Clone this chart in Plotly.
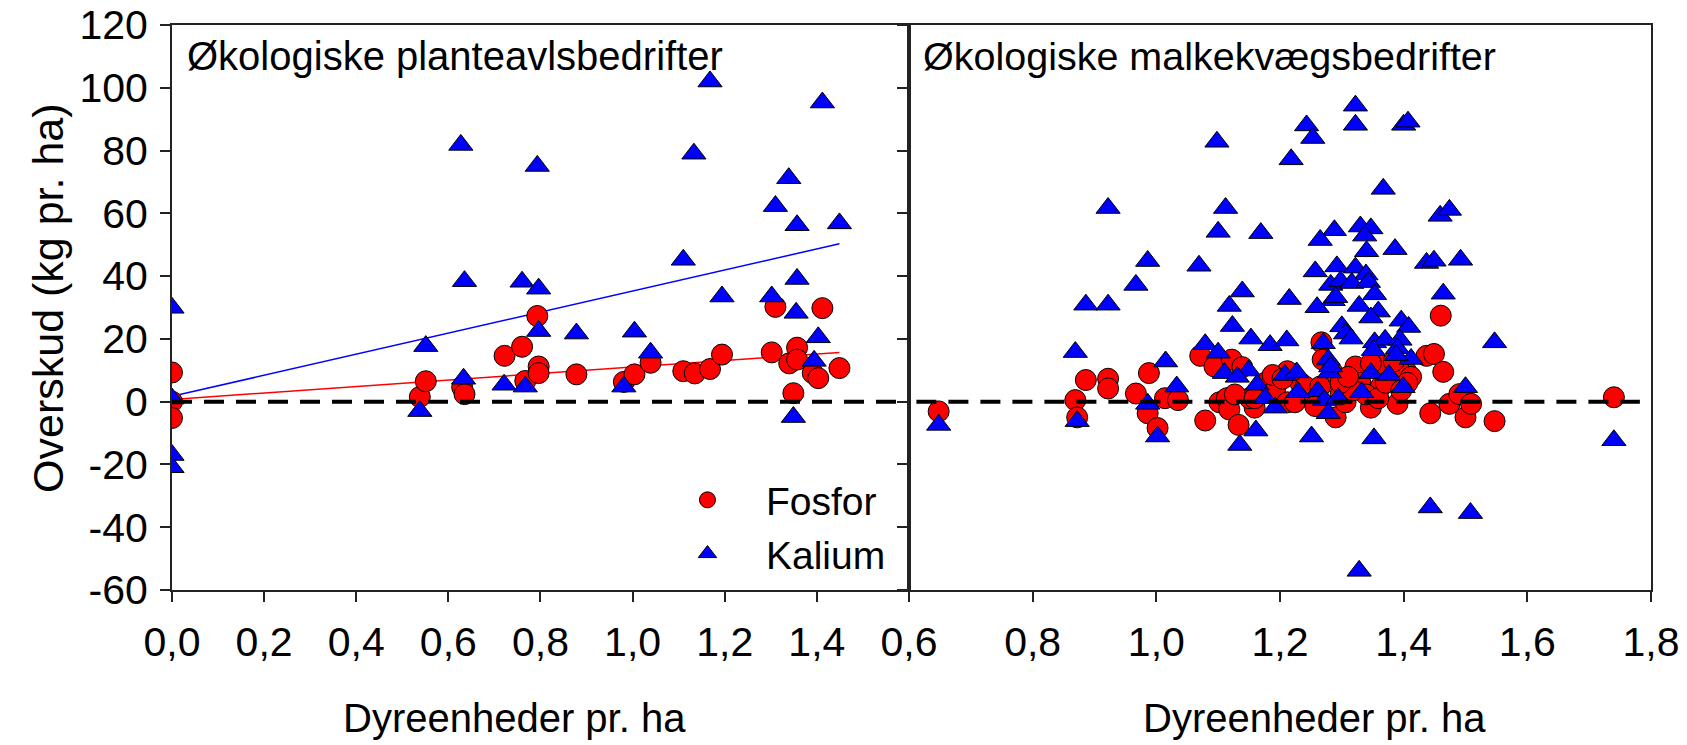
import plotly.graph_objects as go

# ---------------- data ----------------
# Left panel: Økologiske planteavlsbedrifter
plante_P_x = [0.0, 0.0, 0.0, 0.538, 0.551, 0.63, 0.635, 0.722, 0.76, 0.767, 0.793, 0.796, 0.796,
              0.878, 0.981, 1.004, 1.039, 1.11, 1.135, 1.168, 1.194, 1.31, 1.302, 1.34, 1.357,
              1.357, 1.349, 1.391, 1.403, 1.412, 1.449]
plante_P_y = [9.3, 0.0, -5.2, 1.5, 6.5, 4.6, 2.4, 14.6, 17.5, 6.6, 27.3, 11.2, 9.1,
              8.7, 6.3, 8.7, 12.4, 9.7, 9.0, 10.4, 15.0, 30.2, 15.7, 12.2, 17.2,
              13.4, 2.7, 9.1, 7.5, 29.8, 10.7]
plante_K_x = [0.0, 0.0, 0.0, 0.0, 0.538, 0.551, 0.627, 0.635, 0.633, 0.721, 0.76, 0.767, 0.793,
              0.796, 0.796, 0.878, 0.981, 1.004, 1.039, 1.11, 1.133, 1.168, 1.194, 1.302, 1.31,
              1.339, 1.357, 1.357, 1.355, 1.349, 1.394, 1.403, 1.412, 1.449]
plante_K_y = [29.9, 1.0, -17.0, -20.9, -3.0, 17.7, 81.8, 38.4, 7.3, 5.4, 38.2, 4.8, 75.1,
              36.0, 22.5, 21.7, 4.8, 22.3, 15.6, 45.2, 79.0, 102.0, 33.5, 33.5, 62.3,
              71.2, 56.2, 39.1, 28.3, -4.9, 13.0, 20.5, 95.3, 56.8]
# regression lines (left panel)
fit_x = [0.0, 1.449]
fit_P = [0.7, 15.7]
fit_K = [1.7, 50.3]

# Right panel: Økologiske malkekvægsbedrifter
malk_P_x = [0.648, 1.74, 0.869, 0.872, 0.886, 0.922, 0.922, 0.967, 0.988, 0.986, 1.002, 1.014,
            1.035, 1.071, 1.079, 1.094, 1.122, 1.139, 1.102, 1.114, 1.118, 1.133, 1.159, 1.176,
            1.192, 1.212, 1.212, 1.233, 1.249, 1.267, 1.269, 1.286, 1.29, 1.306, 1.322, 1.33,
            1.347, 1.355, 1.363, 1.39, 1.404, 1.437, 1.449, 1.443, 1.46, 1.464, 1.474, 1.49,
            1.50, 1.509, 1.547, 1.367, 1.392, 1.412, 1.406, 1.151, 1.224, 1.257, 1.298, 1.339,
            1.359, 1.318, 1.298, 1.371, 1.396, 1.188, 1.204, 1.241, 1.265, 1.31, 1.347, 1.384,
            1.127, 1.159]
malk_P_y = [-3.1, 1.4, 0.5, -5.0, 6.9, 7.3, 4.2, 2.6, 9.1, -3.7, -8.4, 1.1,
            0.5, 14.6, -6.0, 11.2, 13.4, 11.0, -0.2, 1.1, -2.5, -7.4, -1.9, 6.0,
            3.6, 9.7, -0.2, 6.0, 1.1, 18.9, 13.4, 9.1, -5.0, -0.2, 11.2, 6.0,
            -1.9, 11.0, 4.8, -0.7, 9.7, 14.6, 15.2, -3.7, 27.4, 9.5, -0.7, 2.4,
            -5.0, -0.7, -6.2, 11.5, 10.3, 7.9, 6.0, 1.1, -0.2, -1.4, 2.3, 2.3,
            1.1, 3.6, 6.0, 6.0, 3.6, 8.5, 7.3, 4.8, 4.8, 7.9, 12.2, 12.8,
            2.3, 1.1]
malk_K_x = [1.322, 1.322, 1.243, 1.253, 1.40, 1.407, 1.218, 1.098, 1.367, 0.922, 1.112, 1.459,
            1.474, 1.100, 1.169, 1.288, 1.265, 1.33, 1.347, 1.337, 1.34, 1.386, 1.437, 1.449,
            1.492, 0.986, 1.069, 0.967, 1.257, 1.292, 1.322, 1.339, 1.282, 1.298, 1.316, 1.343,
            1.286, 1.29, 1.139, 1.353, 0.886, 0.922, 1.215, 1.118, 1.26, 1.328, 1.359, 1.347,
            1.396, 1.408, 1.464, 1.123, 1.30, 1.306, 1.315, 1.153, 1.184, 1.211, 1.079, 1.1,
            1.353, 1.37, 1.394, 1.39, 1.412, 1.388, 1.351, 1.27, 1.278, 1.547, 0.869, 1.015,
            1.033, 1.110, 1.149, 1.163, 1.208, 1.227, 1.261, 1.28, 1.282, 1.347, 1.376, 1.399,
            1.50, 1.332, 1.229, 1.176, 1.131, 1.272, 1.294, 0.986, 1.192, 1.278, 0.648, 0.872,
            1.002, 1.161, 1.251, 1.352, 1.135, 1.74, 1.443, 1.508, 1.328]
malk_K_y = [94.3, 88.2, 88.0, 84.0, 88.2, 89.2, 77.2, 82.8, 67.8, 61.7, 61.7, 59.2,
            61.1, 54.1, 53.7, 54.6, 51.5, 55.8, 55.2, 52.9, 47.9, 48.6, 44.2, 44.9,
            45.2, 44.8, 43.3, 37.2, 41.5, 43.1, 42.7, 40.5, 37.2, 38.4, 37.8, 38.1,
            32.3, 33.3, 35.1, 34.2, 30.9, 30.9, 32.7, 30.5, 30.1, 30.5, 28.7, 26.8,
            25.8, 23.8, 34.4, 24.1, 24.0, 21.7, 20.1, 20.1, 18.0, 19.5, 18.3, 15.6,
            18.9, 19.7, 19.7, 17.0, 13.6, 14.8, 16.4, 18.6, 13.4, 18.9, 15.8, 12.8,
            4.8, 9.1, 9.9, 5.4, 8.5, 9.3, 3.3, 9.3, 11.2, 9.1, 8.5, 4.6,
            4.6, 3.0, 3.0, 1.1, 7.9, 0.5, 1.1, -0.7, -1.9, -3.7, -7.4, -6.2,
            -11.1, -9.2, -11.1, -11.7, -13.8, -12.3, -33.7, -35.5, -53.9]

left_ticks = [0.0, 0.2, 0.4, 0.6, 0.8, 1.0, 1.2, 1.4]
right_ticks = [0.6, 0.8, 1.0, 1.2, 1.4, 1.6, 1.8]
y_ticks = [-60, -40, -20, 0, 20, 40, 60, 80, 100, 120]
y_ticktext = [str(v) for v in y_ticks]  # plain hyphen minus, as in the original

# ---------------- styling ----------------
FONT = "Liberation Sans, Arial, sans-serif"
RED = "#FF0000"
BLUE = "#0000FF"
circ = dict(symbol="circle", size=21, color=RED, line=dict(color="black", width=1))
tri = dict(symbol="triangle-up", size=21, color=BLUE, line=dict(color="black", width=1))

fig = go.Figure()
# fit lines (under markers)
fig.add_trace(go.Scatter(x=fit_x, y=fit_K, mode="lines", line=dict(color=BLUE, width=1.5),
                         showlegend=False, xaxis="x", yaxis="y", hoverinfo="skip"))
fig.add_trace(go.Scatter(x=fit_x, y=fit_P, mode="lines", line=dict(color=RED, width=1.5),
                         showlegend=False, xaxis="x", yaxis="y", hoverinfo="skip"))
# left panel
fig.add_trace(go.Scatter(x=plante_P_x, y=plante_P_y, mode="markers", marker=circ,
                         name="Fosfor", xaxis="x", yaxis="y"))
fig.add_trace(go.Scatter(x=plante_K_x, y=plante_K_y, mode="markers", marker=tri,
                         name="Kalium", xaxis="x", yaxis="y"))
# right panel
fig.add_trace(go.Scatter(x=malk_P_x, y=malk_P_y, mode="markers", marker=circ,
                         name="Fosfor", showlegend=False, xaxis="x2", yaxis="y2"))
fig.add_trace(go.Scatter(x=malk_K_x, y=malk_K_y, mode="markers", marker=tri,
                         name="Kalium", showlegend=False, xaxis="x2", yaxis="y2"))

split = 0.4983
axis_common = dict(showline=True, linecolor="#222222", linewidth=2, mirror=True,
                   showgrid=False, zeroline=False, ticks="outside", ticklen=10,
                   tickcolor="#222222", tickwidth=1.5, automargin=False,
                   ticklabeloverflow="allow",
                   tickfont=dict(family=FONT, size=41, color="black"))

fig.update_layout(
    width=1687, height=745,
    margin=dict(l=172, r=36, t=25, b=155),
    paper_bgcolor="white", plot_bgcolor="white",
    separators=",.",
    font=dict(family=FONT, color="black"),
    xaxis=dict(domain=[0, split], range=[0, 1.6], tickvals=left_ticks, tickformat=".1f",
               anchor="y", ticklabelstandoff=5, **axis_common),
    xaxis2=dict(domain=[split, 1], range=[0.6, 1.8], tickvals=right_ticks, tickformat=".1f",
                anchor="y2", ticklabelstandoff=5, **axis_common),
    yaxis=dict(domain=[0, 1], range=[-60, 120], tickvals=y_ticks, ticktext=y_ticktext,
               anchor="x", ticklabelstandoff=4, **axis_common),
    yaxis2=dict(domain=[0, 1], range=[-60, 120], tickvals=y_ticks, anchor="x2",
                matches="y", showticklabels=False, **axis_common),
    showlegend=True,
    legend=dict(x=0.3225, y=0.2159, xanchor="left", yanchor="top",
                bgcolor="rgba(0,0,0,0)", itemwidth=107,
                font=dict(family=FONT, size=39, color="black"), tracegroupgap=0),
    shapes=[
        dict(type="line", xref="x domain", yref="y", x0=0, x1=0.99, y0=0, y1=0,
             line=dict(color="black", width=4, dash="20px,12px"), layer="above"),
        dict(type="line", xref="x2 domain", yref="y2", x0=0.01, x1=0.985, y0=0, y1=0,
             line=dict(color="black", width=4, dash="20px,12px"), layer="above"),
    ],
    annotations=[
        dict(text="Overskud (kg pr. ha)", xref="paper", yref="paper", x=-0.0838, y=0.517,
             textangle=-90, showarrow=False, xanchor="center", yanchor="middle",
             font=dict(family=FONT, size=43, color="black")),
        dict(text="Dyreenheder pr. ha", xref="paper", yref="paper", x=0.2319, y=-0.2690,
             showarrow=False, xanchor="center", yanchor="bottom",
             font=dict(family=FONT, size=40, color="black")),
        dict(text="Dyreenheder pr. ha", xref="paper", yref="paper", x=0.7724, y=-0.2690,
             showarrow=False, xanchor="center", yanchor="bottom",
             font=dict(family=FONT, size=40, color="black")),
        dict(text="Økologiske planteavlsbedrifter", xref="paper", yref="paper", x=0.0088,
             y=0.945, showarrow=False, xanchor="left", yanchor="middle",
             font=dict(family=FONT, size=40, color="black")),
        dict(text="Økologiske malkekvægsbedrifter", xref="paper", yref="paper", x=0.5064,
             y=0.945, showarrow=False, xanchor="left", yanchor="middle",
             font=dict(family=FONT, size=39.5, color="black")),
    ],
)

fig.write_html("out.html", config={"displayModeBar": False},
               post_script="document.body.style.margin='0px';")
